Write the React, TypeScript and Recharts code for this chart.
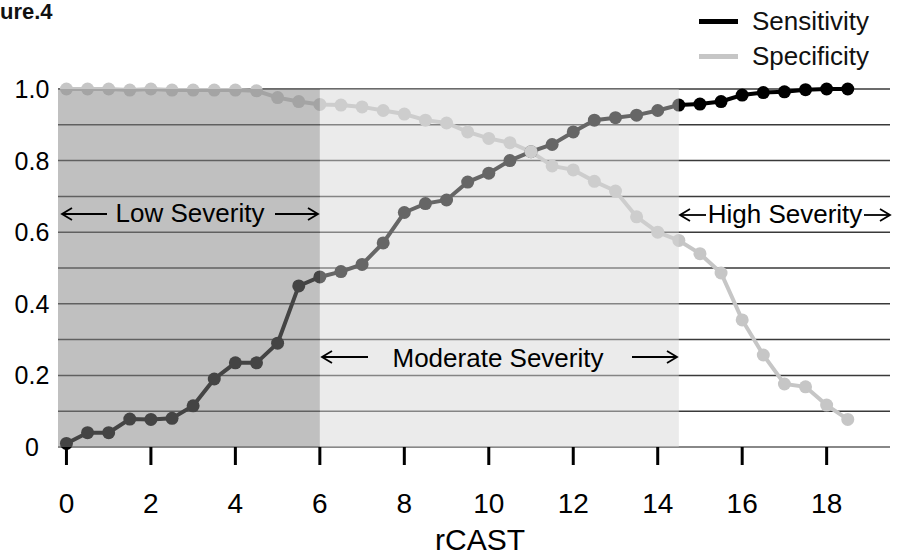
import React from "react";
import {
  LineChart,
  Line,
  XAxis,
  YAxis,
  CartesianGrid,
  ReferenceArea,
  Legend,
} from "recharts";

// rCAST score (x) and the two curves
const rcast = [
  0, 0.5, 1, 1.5, 2, 2.5, 3, 3.5, 4, 4.5, 5, 5.5, 6, 6.5, 7, 7.5, 8, 8.5, 9,
  9.5, 10, 10.5, 11, 11.5, 12, 12.5, 13, 13.5, 14, 14.5, 15, 15.5, 16, 16.5,
  17, 17.5, 18, 18.5,
];
const sensitivity = [
  0.01, 0.04, 0.04, 0.078, 0.077, 0.08, 0.115, 0.19, 0.235, 0.235, 0.29, 0.45,
  0.475, 0.49, 0.51, 0.57, 0.655, 0.68, 0.69, 0.74, 0.765, 0.8, 0.825, 0.845,
  0.88, 0.913, 0.92, 0.927, 0.94, 0.955, 0.958, 0.965, 0.983, 0.99, 0.992,
  0.998, 1.0, 1.0,
];
const specificity = [
  1.0, 1.0, 1.0, 0.997, 1.0, 0.997, 0.997, 0.997, 0.997, 0.995, 0.976, 0.965,
  0.957, 0.955, 0.95, 0.94, 0.93, 0.913, 0.905, 0.88, 0.862, 0.85, 0.825,
  0.785, 0.774, 0.742, 0.715, 0.643, 0.6, 0.577, 0.54, 0.486, 0.355, 0.257,
  0.176, 0.168, 0.117, 0.077,
];

const xTicks = [0, 2, 4, 6, 8, 10, 12, 14, 16, 18];
const yTicks = [0, 0.1, 0.2, 0.3, 0.4, 0.5, 0.6, 0.7, 0.8, 0.9, 1.0];
const yTickLabels = ["0", "", "0.2", "", "0.4", "", "0.6", "", "0.8", "", "1.0"];

// severity bands: low up to 6, moderate up to 14.5, high beyond
const severityCuts = [6, 14.5];

const data = rcast.map((x, i) => ({
  x,
  sensitivity: sensitivity[i],
  specificity: specificity[i],
}));

const FONT = '"Liberation Sans", Arial, Helvetica, sans-serif';
const SENS = "#000000";
const SPEC = "#c6c6c6";

const YTick = ({ y, index }: { y?: number; index?: number }) => (
  <text x={32} y={y} dy="0.36em" textAnchor="middle" fontSize={25} fill="#000" fontFamily={FONT}>
    {yTickLabels[index ?? 0]}
  </text>
);

const LegendBox = () => (
  <div style={{ fontFamily: FONT, fontSize: 26, color: "#111" }}>
    {[
      { name: "Sensitivity", color: SENS },
      { name: "Specificity", color: SPEC },
    ].map((it) => (
      <div key={it.name} style={{ display: "flex", alignItems: "center", height: 35 }}>
        <span style={{ width: 39, height: 5, background: it.color, display: "inline-block", marginRight: 14 }} />
        <span>{it.name}</span>
      </div>
    ))}
  </div>
);

const Arrow = ({ from, to, y }: { from: number; to: number; y: number }) => {
  const d = to > from ? 1 : -1;
  return (
    <g stroke="#000" strokeWidth={1.8} fill="none">
      <line x1={from} y1={y} x2={to} y2={y} />
      <polyline points={`${to - d * 10},${y - 6} ${to},${y} ${to - d * 10},${y + 6}`} />
    </g>
  );
};

export default function App() {
  return (
    <div
      style={{
        position: "fixed",
        left: 0,
        top: 0,
        width: 901,
        height: 557,
        background: "#fff",
        overflow: "hidden",
        fontFamily: FONT,
      }}
    >
      <div style={{ position: "absolute", left: 0, top: 0, fontSize: 22, fontWeight: "bold", color: "#111", lineHeight: "24px" }}>
        ure.4
      </div>
      <LineChart width={901} height={557} data={data} margin={{ top: 89, right: 11, bottom: 0, left: 0 }}>
        <CartesianGrid vertical={false} stroke="#3a3a3a" strokeWidth={1.5} />
        <XAxis
          dataKey="x"
          type="number"
          domain={[-0.2, 19.5]}
          ticks={xTicks}
          allowDataOverflow
          height={110}
          tickSize={18}
          tickMargin={28}
          tick={{ fill: "#000", fontSize: 28, fontFamily: FONT }}
          tickLine={{ stroke: "#000", strokeWidth: 3 }}
          axisLine={{ stroke: "#888", strokeWidth: 2 }}
          label={{ value: "rCAST", position: "insideBottom", offset: 7, dx: 6, fontSize: 30, fill: "#000", fontFamily: FONT }}
        />
        <YAxis
          type="number"
          domain={[0, 1]}
          ticks={yTicks}
          width={58}
          axisLine={false}
          tickLine={false}
          tick={<YTick />}
        />
        <Legend
          layout="vertical"
          align="center"
          verticalAlign="middle"
          content={<LegendBox />}
          wrapperStyle={{ top: 4, left: 699, width: 200 }}
        />
        <Line
          dataKey="sensitivity"
          name="Sensitivity"
          stroke={SENS}
          strokeWidth={4}
          dot={{ r: 6.5, fill: SENS, stroke: "none" }}
          isAnimationActive={false}
        />
        <Line
          dataKey="specificity"
          name="Specificity"
          stroke={SPEC}
          strokeWidth={4}
          dot={{ r: 6.5, fill: SPEC, stroke: "none" }}
          isAnimationActive={false}
        />
        <ReferenceArea
          x1={-0.2}
          x2={severityCuts[0]}
          y1={0}
          y2={1}
          fill="#848484"
          fillOpacity={0.514}
          stroke="none"
          zIndex={1500}
        />
        <ReferenceArea
          x1={severityCuts[0]}
          x2={severityCuts[1]}
          y1={0}
          y2={1}
          fill="#d5d5d5"
          fillOpacity={0.48}
          stroke="none"
          zIndex={1500}
        />
      </LineChart>
      <svg width={901} height={557} style={{ position: "absolute", left: 0, top: 0, pointerEvents: "none" }}>
        <g fontFamily={FONT} fontSize={26} fill="#000">
          <Arrow from={107} to={62} y={214} />
          <text x={190} y={222} textAnchor="middle">Low Severity</text>
          <Arrow from={275} to={318} y={214} />

          <Arrow from={368} to={322} y={357} />
          <text x={498} y={367} textAnchor="middle">Moderate Severity</text>
          <Arrow from={632} to={677} y={357} />

          <Arrow from={706} to={680} y={215} />
          <text x={785} y={223} textAnchor="middle">High Severity</text>
          <Arrow from={864} to={890} y={215} />
        </g>
      </svg>
    </div>
  );
}
